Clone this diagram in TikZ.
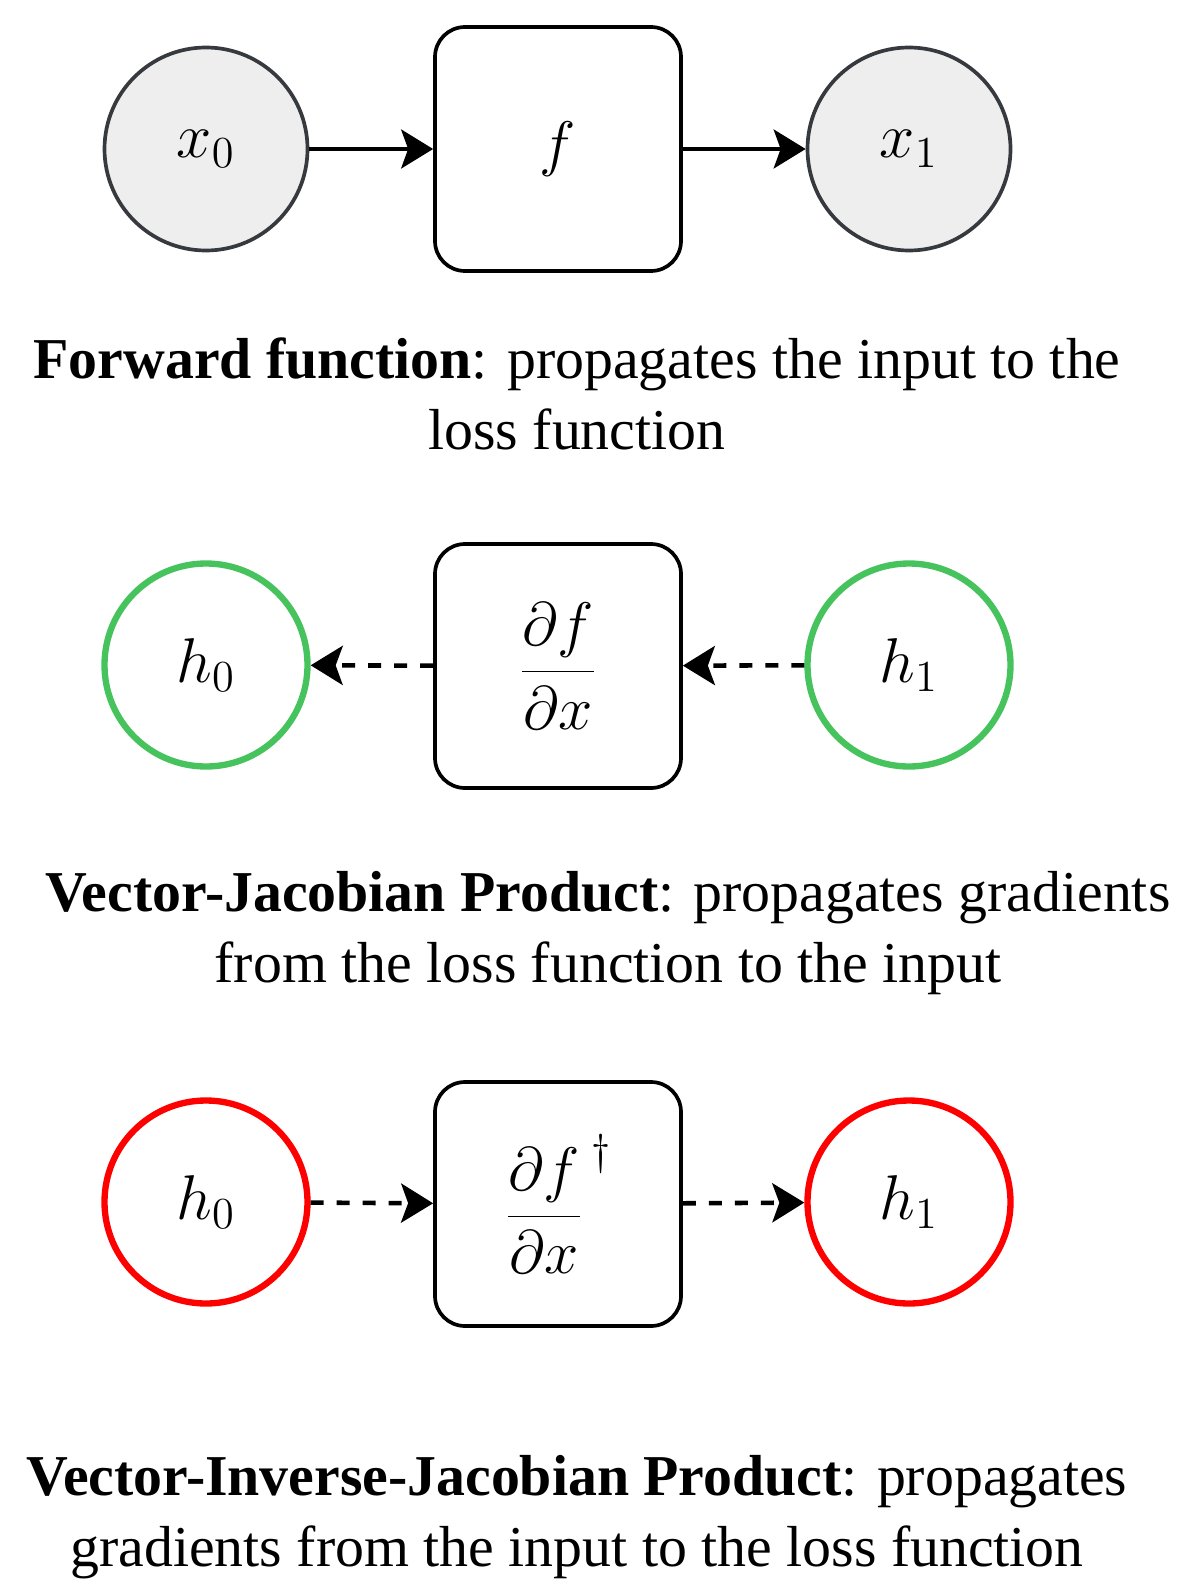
\RequirePackage{fix-cm}
\documentclass[tikz,border=0pt]{standalone}
\usepackage{fontspec}
\setmainfont{Liberation Serif}
\usetikzlibrary{arrows.meta}

\definecolor{stategray}{HTML}{36393D}
\definecolor{statefill}{HTML}{EEEEEE}
\definecolor{vjpgreen}{HTML}{47C35E}
\definecolor{vijpred}{HTML}{FF0000}

\begin{document}
\begin{tikzpicture}[
    state/.style={circle, draw=stategray, fill=statefill, line width=1.05pt, minimum size=2.03cm, inner sep=0pt, font=\fontsize{18}{21}\selectfont},
    grad/.style={circle, line width=1.8pt, minimum size=2.03cm, inner sep=0pt, font=\fontsize{18}{21}\selectfont},
    fbox/.style={rectangle, rounded corners=0.3cm, draw, line width=1.05pt, minimum width=2.46cm, minimum height=2.44cm, font=\fontsize{17.5}{21}\selectfont},
    caption/.style={align=center, font=\fontsize{16.45}{20.2}\selectfont},
    tip/.style={-{Stealth[length=0.32cm, width=0.39cm, inset=0.07cm]}},
    flow/.style={tip, line width=1pt},
    back/.style={tip, line width=1.3pt, dash pattern=on 3.7pt off 3.7pt},
]
    \useasboundingbox (0,0) rectangle (11.82,-15.82);
    \node[state] (x0) at (2.06, -1.49) {$x_0$};
    \node[fbox] (f) at (5.58, -1.49) {$f$};
    \node[state] (x1) at (9.09, -1.49) {$x_1$};
    \node[caption] (fwd) at (5.77, -3.94) {\textbf{Forward function}: propagates the input to the\\loss function};
    \draw[flow] (x0) to (f);
    \draw[flow] (f) to (x1);

    \node[grad, draw=vjpgreen] (vh0) at (2.06, -6.65) {$h_0$};
    \node[fbox] (jac) at (5.58, -6.66) {$\displaystyle\frac{\partial f}{\partial x}$};
    \node[grad, draw=vjpgreen] (vh1) at (9.09, -6.65) {$h_1$};
    \node[caption] (vjp) at (6.08, -9.33) {\textbf{Vector-Jacobian Product}: propagates gradients\\from the loss function to the input};
    \draw[back] (jac) to (vh0);
    \draw[back] (vh1) to (jac);

    \node[grad, draw=vijpred] (ih0) at (2.06, -12.02) {$h_0$};
    \node[fbox] (ijac) at (5.58, -12.04) {$\displaystyle\frac{\partial f}{\partial x}^{\,\dagger}$};
    \node[grad, draw=vijpred] (ih1) at (9.09, -12.02) {$h_1$};
    \node[caption] (vijp) at (5.77, -15.17) {\textbf{Vector-Inverse-Jacobian Product}: propagates\\gradients from the input to the loss function};
    \draw[back] (ih0) to (ijac);
    \draw[back] (ijac) to (ih1);
\end{tikzpicture}
\end{document}
